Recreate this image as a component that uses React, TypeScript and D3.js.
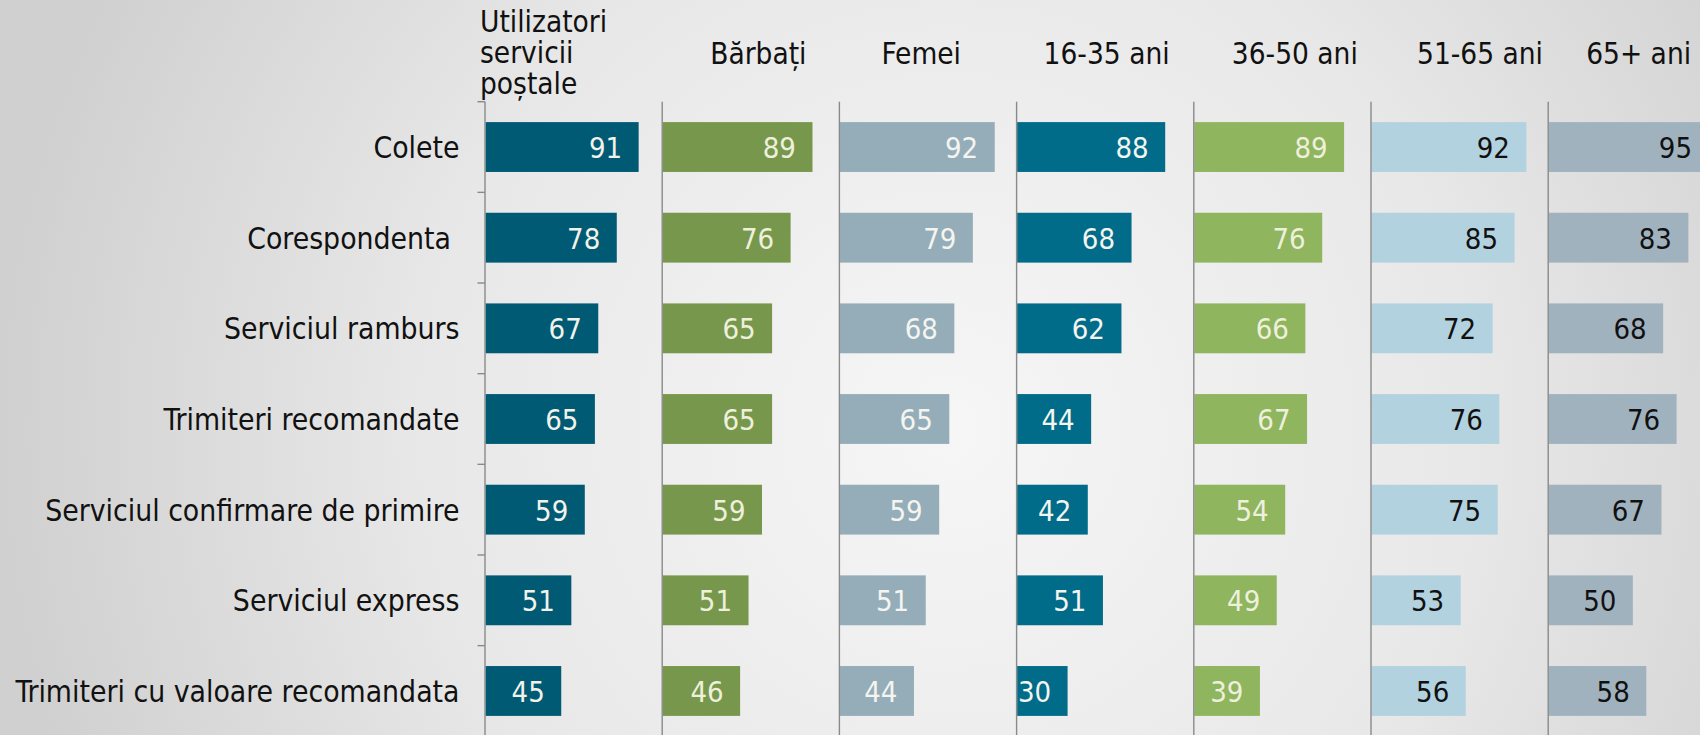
import React from "react";
import * as d3 from "d3";

const categories = [
  "Colete",
  "Corespondenta ",
  "Serviciul ramburs",
  "Trimiteri recomandate",
  "Serviciul confirmare de primire",
  "Serviciul express",
  "Trimiteri cu valoare recomandata",
];

const groups = ["Utilizatori servicii poștale", "Bărbați", "Femei", "16-35 ani", "36-50 ani", "51-65 ani", "65+ ani"];

const utilizatori = [91, 78, 67, 65, 59, 51, 45];
const barbati = [89, 76, 65, 65, 59, 51, 46];
const femei = [92, 79, 68, 65, 59, 51, 44];
const ani16_35 = [88, 68, 62, 44, 42, 51, 30];
const ani36_50 = [89, 76, 66, 67, 54, 49, 39];
const ani51_65 = [92, 85, 72, 76, 75, 53, 56];
const ani65plus = [95, 83, 68, 76, 67, 50, 58];

const seriesValues = [utilizatori, barbati, femei, ani16_35, ani36_50, ani51_65, ani65plus];

const barColors = ["#005a74", "#77984c", "#95adb8", "#006c89", "#8fb55f", "#b3d2df", "#a1b2bf"];
const labelColors = ["#f2f2ea", "#eef0dc", "#f4f4f0", "#f4f4f0", "#eef0dc", "#111111", "#111111"];
const headerOffsets = [-5, 48, 42, 27, 38, 46, 38];

const W = 1700;
const H = 735;
const FONT = "'DejaVu Sans Condensed', 'DejaVu Sans', Verdana, sans-serif";

export default function App() {
  const panelX = d3.scaleBand<number>().domain(d3.range(groups.length)).range([485, 485 + 177.2 * 7]).paddingInner(0).paddingOuter(0);
  const x = d3.scaleLinear().domain([0, 100]).range([0, 168.3]);
  const y = d3.scaleBand<string>().domain(categories).range([101.7, 736.3]).paddingInner(0.45).paddingOuter(0.225);
  const bandStep = y.step();
  const bounds = d3.range(categories.length + 1).map((i) => 101.7 + i * bandStep);

  return (
    <svg
      width={W}
      height={H}
      style={{ position: "absolute", left: 0, top: 0, display: "block" }}
      fontFamily={FONT}
    >
      <defs>
        <radialGradient id="bg" gradientUnits="userSpaceOnUse" cx={950} cy={430} r={950}>
          <stop offset="0" stopColor="#f6f6f6" />
          <stop offset="0.55" stopColor="#e8e8e8" />
          <stop offset="1" stopColor="#d0d0d0" />
        </radialGradient>
      </defs>
      <rect x={0} y={0} width={W} height={H} fill="url(#bg)" />

      {/* headers */}
      <text fontSize={29.5} fill="#111">
        {["Utilizatori", "servicii", "poștale"].map((t, i) => (
          <tspan key={i} x={(panelX(0) as number) + headerOffsets[0]} y={32.3 + i * 31}>
            {t}
          </tspan>
        ))}
      </text>
      {groups.slice(1).map((g, k) => {
        const i = k + 1;
        return (
          <text key={g} x={(panelX(i) as number) + headerOffsets[i]} y={64.3} fontSize={29.5} fill="#111">
            {g}
          </text>
        );
      })}

      {/* category labels */}
      {categories.map((c) => (
        <text
          key={c}
          x={459.5}
          y={(y(c) as number) + y.bandwidth() / 2 + 11}
          textAnchor="end"
          fontSize={29.8}
          fill="#111"
          style={{ whiteSpace: "pre" }}
        >
          {c}
        </text>
      ))}

      {/* ticks on first axis */}
      {bounds.map((b, i) => (
        <line key={i} x1={477.5} x2={485} y1={b} y2={b} stroke="#8a8a8a" strokeWidth={1.4} />
      ))}

      {/* panels */}
      {seriesValues.map((vals, gi) => {
        const x0 = panelX(gi) as number;
        return (
          <g key={gi} transform={`translate(${x0},0)`}>
            {vals.map((v, ci) => {
              const c = categories[ci];
              const yy = y(c) as number;
              const w = x(v);
              return (
                <g key={ci}>
                  <rect x={0.5} y={yy} width={w} height={y.bandwidth()} fill={barColors[gi]} />
                  <text
                    x={w - 16}
                    y={yy + y.bandwidth() / 2 + 11}
                    textAnchor="end"
                    fontSize={29}
                    fill={labelColors[gi]}
                  >
                    {v}
                  </text>
                </g>
              );
            })}
            <line x1={0} x2={0} y1={101.7} y2={H} stroke="#8a8a8a" strokeWidth={1.4} />
          </g>
        );
      })}
    </svg>
  );
}
